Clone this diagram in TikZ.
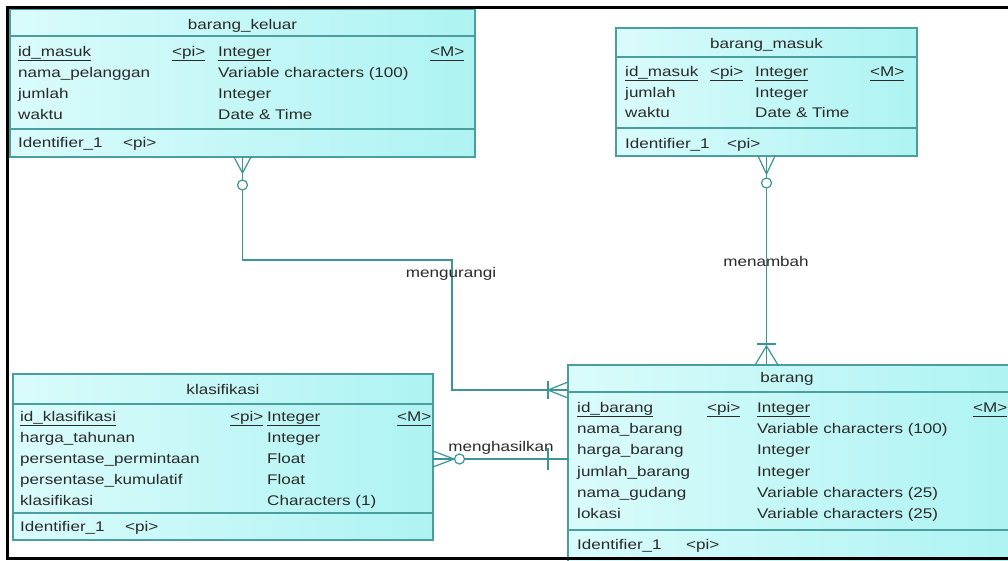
\documentclass[tikz,border=0pt]{standalone}
\usepackage{fontspec}
\setmainfont{Liberation Sans}[FakeStretch=1.22]
\definecolor{boxline}{HTML}{4A9E9E}
\definecolor{conn}{HTML}{3A9696}
\definecolor{txtc}{HTML}{2A2A2A}
\definecolor{fillL}{HTML}{DAFBFB}
\definecolor{fillR}{HTML}{AEF3F3}
\newcommand\ulx[1]{\underline{#1\vphantom{g}}}
\begin{document}
\begin{tikzpicture}[x=1pt,y=-1pt,
  font=\fontsize{14}{16}\selectfont,
  tbl/.style={draw=boxline, line width=1.2pt, left color=fillL, right color=fillR,
    inner sep=0pt, outer sep=0pt, rectangle},
  sepl/.style={draw=boxline, line width=1.2pt},
  tx/.style={anchor=base west, inner sep=0pt, text=txtc},
  ttl/.style={anchor=base, inner sep=0pt, text=txtc},
  rel/.style={draw=conn, line width=1.2pt},
  lbl/.style={anchor=base, inner sep=0pt, text=txtc},
  circ/.style={draw=conn, line width=1.2pt, fill=white}]
\useasboundingbox (0,0) rectangle (1008,560);
\fill[white] (0,0) rectangle (1008,560);

% ---------- barang_keluar ----------
\node[tbl, minimum width=465pt, minimum height=148pt] (bk) at (242.5,83) {};
\draw[sepl] (bk.west |- 0,36) -- (bk.east |- 0,36);
\draw[sepl] (bk.west |- 0,129) -- (bk.east |- 0,129);
\node[ttl] (bkt) at (242.5,29) {barang\_keluar};
\node[tx] (bk1a) at (18,56) {\ulx{id\_masuk}};
\node[tx] (bk1b) at (172,56) {\ulx{<pi>}};
\node[tx] (bk1c) at (218,56) {\ulx{Integer}};
\node[tx] (bk1d) at (430,56) {\ulx{<M>}};
\node[tx] (bk2a) at (18,77) {nama\_pelanggan};
\node[tx] (bk2c) at (218,77) {Variable characters (100)};
\node[tx] (bk3a) at (18,98) {jumlah};
\node[tx] (bk3c) at (218,98) {Integer};
\node[tx] (bk4a) at (18,119) {waktu};
\node[tx] (bk4c) at (218,119) {Date \& Time};
\node[tx] (bk5a) at (18,147) {Identifier\_1};
\node[tx] (bk5b) at (123,147) {<pi>};

% ---------- barang_masuk ----------
\node[tbl, minimum width=301pt, minimum height=128pt] (bm) at (766.5,92) {};
\draw[sepl] (bm.west |- 0,57) -- (bm.east |- 0,57);
\draw[sepl] (bm.west |- 0,128) -- (bm.east |- 0,128);
\node[ttl] (bmt) at (766.5,48) {barang\_masuk};
\node[tx] (bm1a) at (625,76) {\ulx{id\_masuk}};
\node[tx] (bm1b) at (710,76) {\ulx{<pi>}};
\node[tx] (bm1c) at (755,76) {\ulx{Integer}};
\node[tx] (bm1d) at (870,76) {\ulx{<M>}};
\node[tx] (bm2a) at (625,97) {jumlah};
\node[tx] (bm2c) at (755,97) {Integer};
\node[tx] (bm3a) at (625,117) {waktu};
\node[tx] (bm3c) at (755,117) {Date \& Time};
\node[tx] (bm4a) at (625,148) {Identifier\_1};
\node[tx] (bm4b) at (727,148) {<pi>};

% ---------- klasifikasi ----------
\node[tbl, minimum width=420pt, minimum height=166pt] (k) at (223,457) {};
\draw[sepl] (k.west |- 0,404) -- (k.east |- 0,404);
\draw[sepl] (k.west |- 0,513) -- (k.east |- 0,513);
\node[ttl] (kt) at (223,394) {klasifikasi};
\node[tx] (k1a) at (20,421) {\ulx{id\_klasifikasi}};
\node[tx] (k1b) at (230,421) {\ulx{<pi>}};
\node[tx] (k1c) at (267,421) {\ulx{Integer}};
\node[tx] (k1d) at (397,421) {\ulx{<M>}};
\node[tx] (k2a) at (20,442) {harga\_tahunan};
\node[tx] (k2c) at (267,442) {Integer};
\node[tx] (k3a) at (20,463) {persentase\_permintaan};
\node[tx] (k3c) at (267,463) {Float};
\node[tx] (k4a) at (20,484) {persentase\_kumulatif};
\node[tx] (k4c) at (267,484) {Float};
\node[tx] (k5a) at (20,505) {klasifikasi};
\node[tx] (k5c) at (267,505) {Characters (1)};
\node[tx] (k6a) at (20,531) {Identifier\_1};
\node[tx] (k6b) at (125,531) {<pi>};

% ---------- barang ----------
\node[tbl, minimum width=447pt, minimum height=200pt] (b) at (791.5,465) {};
\draw[sepl] (b.west |- 0,392) -- (b.east |- 0,392);
\draw[sepl] (b.west |- 0,530) -- (b.east |- 0,530);
\node[ttl] (bt) at (787,382) {barang};
\node[tx] (b1a) at (577,412) {\ulx{id\_barang}};
\node[tx] (b1b) at (707,412) {\ulx{<pi>}};
\node[tx] (b1c) at (757,412) {\ulx{Integer}};
\node[tx] (b1d) at (973,412) {\ulx{<M>}};
\node[tx] (b2a) at (577,433) {nama\_barang};
\node[tx] (b2c) at (757,433) {Variable characters (100)};
\node[tx] (b3a) at (577,454) {harga\_barang};
\node[tx] (b3c) at (757,454) {Integer};
\node[tx] (b4a) at (577,476) {jumlah\_barang};
\node[tx] (b4c) at (757,476) {Integer};
\node[tx] (b5a) at (577,497) {nama\_gudang};
\node[tx] (b5c) at (757,497) {Variable characters (25)};
\node[tx] (b6a) at (577,518) {lokasi};
\node[tx] (b6c) at (757,518) {Variable characters (25)};
\node[tx] (b7a) at (577,549) {Identifier\_1};
\node[tx] (b7b) at (686,549) {<pi>};

% ---------- mengurangi ----------
\coordinate (m1) at (452,260);
\coordinate (m2) at (452,390);
\draw[rel] (bk.south) |- (m1) -- (m2) -- (m2 -| b.west);
\draw[rel] (234,157) -- (242.5,173) -- (251,157);
\draw[circ] (242.5,185) circle[radius=5pt];
\draw[rel] (568,382) -- (548,390) -- (568,398);
\draw[rel] (548,381) -- (548,399);
\node[lbl] (lm) at (451,277) {mengurangi};

% ---------- menambah ----------
\draw[rel] (bm.south) -- (bm.south |- b.north);
\draw[rel] (758,156) -- (766.5,174) -- (775,156);
\draw[circ] (766.5,183) circle[radius=5pt];
\draw[rel] (757,344) -- (776,344);
\draw[rel] (755,365) -- (766.5,346) -- (778,365);
\node[lbl] (ln) at (766,266) {menambah};

% ---------- menghasilkan ----------
\coordinate (h1) at (0,459);
\draw[rel] (k.east |- h1) -- (b.west |- h1);
\draw[rel] (433,451) -- (454,459) -- (433,467);
\draw[circ] (459.5,459) circle[radius=5pt];
\draw[rel] (548,448) -- (548,470);
\node[lbl] (lh) at (501,451) {menghasilkan};

% ---------- frame ----------
\draw[line width=3pt, black] (1012,7) -- (7,7) -- (7,558) -- (1012,558);
\end{tikzpicture}
\end{document}
